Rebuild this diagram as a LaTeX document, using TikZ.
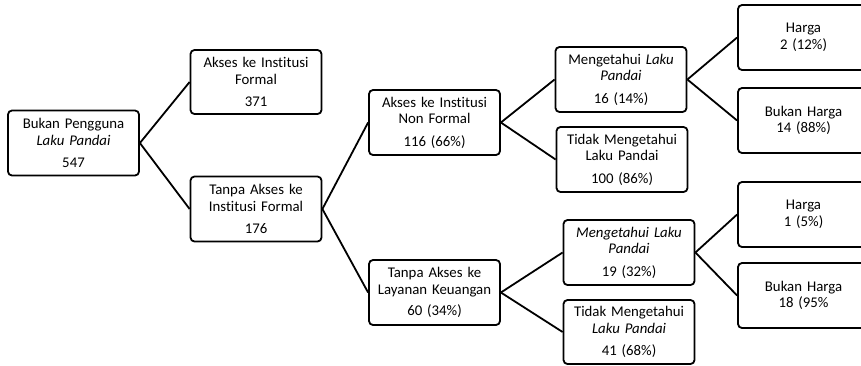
\documentclass[tikz,border=0pt]{standalone}
\usepackage{fontspec}
\setmainfont{Carlito}[Ligatures=NoCommon]
\usepackage{tikz}
\usetikzlibrary{arrows,shapes}
\usetikzlibrary{calc}

\begin{document}
\begin{tikzpicture}[x=1pt,y=-1pt]

  % Define box style
  \tikzset{treebox/.style={draw, rectangle, rounded corners=4pt, line width=1.8pt,
      text width=121pt, inner sep=5pt, minimum height=65pt, align=center,
      font=\fontsize{14.8}{16.5}\selectfont},
    branch/.style={line width=1.8pt}}

  \useasboundingbox (0,0) rectangle (861,365);
  \clip (0,0) rectangle (861,365);

  % Nodes
  \node[treebox] (root) at (73.5,143) {Bukan Pengguna\\\textit{Laku Pandai}\\[6pt]547};
  \node[treebox, minimum height=64pt] (formal) at (256,82) {Akses ke Institusi\\Formal\\[6pt]371};
  \node[treebox] (tanpaformal) at (256,209) {Tanpa Akses ke\\Institusi Formal\\[6pt]176};
  \node[treebox] (nonformal) at (434.5,122.5) {Akses ke Institusi\\Non Formal\\[6pt]116 (66\%)};
  \node[treebox] (tanpalayanan) at (434.5,292.5) {Tanpa Akses ke\\Layanan Keuangan\\[5pt]60 (34\%)};
  \node[treebox] (tahu1) at (621,79.5) {Mengetahui \textit{Laku}\\\textit{Pandai}\\[6pt]16 (14\%)};
  \node[treebox] (tidaktahu1) at (622,159.5) {Tidak Mengetahui\\Laku Pandai\\[6pt]100 (86\%)};
  \node[treebox] (tahu2) at (629,252.5) {\textit{Mengetahui Laku}\\\textit{Pandai}\\[6pt]19 (32\%)};
  \node[treebox, minimum height=64pt] (tidaktahu2) at (629,332) {Tidak Mengetahui\\\textit{Laku Pandai}\\[6pt]41 (68\%)};
  \node[treebox] (harga1) at (803.5,37.5) {Harga\\2 (12\%)};
  \node[treebox] (bukan1) at (803.5,120.5) {Bukan Harga\\14 (88\%)};
  \node[treebox] (harga2) at (803.5,214.5) {Harga\\1 (5\%)};
  \node[treebox] (bukan2) at (803.5,295.5) {Bukan Harga\\18 (95\%};

  % Branches
  \draw[branch] (root.east) -- (formal.west);
  \draw[branch] (root.east) -- (tanpaformal.west);
  \draw[branch] (tanpaformal.east) -- (nonformal.west);
  \draw[branch] (tanpaformal.east) -- (tanpalayanan.west);
  \draw[branch] (nonformal.east) -- (tahu1.west);
  \draw[branch] (nonformal.east) -- (tidaktahu1.west);
  \draw[branch] (tanpalayanan.east) -- (tahu2.west);
  \draw[branch] (tanpalayanan.east) -- (tidaktahu2.west);
  \draw[branch] (tahu1.east) -- (harga1.west);
  \draw[branch] (tahu1.east) -- (bukan1.west);
  \draw[branch] (tahu2.east) -- (harga2.west);
  \draw[branch] (tahu2.east) -- (bukan2.west);

\end{tikzpicture}
\end{document}
